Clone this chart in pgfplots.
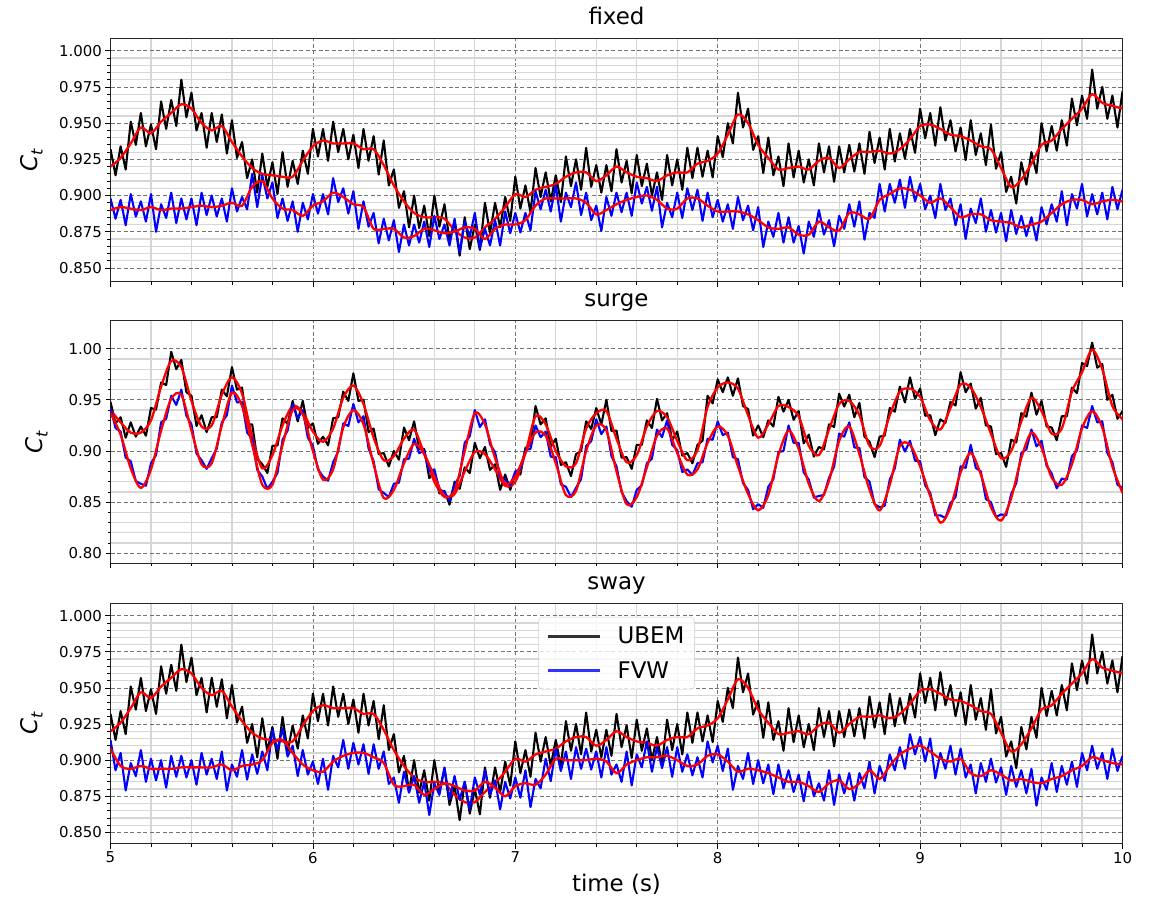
\documentclass[border=0pt]{standalone}
\usepackage{fontspec}
\setmainfont{DejaVu Sans}
\setsansfont{DejaVu Sans}
\usepackage{pgfplots}
\usepackage{pgfplotstable}
\pgfplotsset{compat=1.18}

\pgfplotstableread{
t fb ff sf sb sbl
5.00 0.920 0.890 0.908 0.940 0.937
5.05 0.926 0.892 0.896 0.928 0.916
5.10 0.936 0.891 0.894 0.918 0.883
5.15 0.947 0.890 0.896 0.918 0.864
5.20 0.943 0.892 0.894 0.930 0.882
5.25 0.951 0.890 0.894 0.963 0.920
5.30 0.957 0.891 0.894 0.988 0.951
5.35 0.963 0.891 0.895 0.982 0.955
5.40 0.960 0.892 0.895 0.949 0.920
5.45 0.950 0.893 0.895 0.924 0.887
5.50 0.945 0.892 0.895 0.925 0.888
5.55 0.948 0.893 0.897 0.955 0.925
5.60 0.937 0.895 0.893 0.972 0.957
5.65 0.927 0.893 0.896 0.956 0.944
5.70 0.919 0.906 0.897 0.914 0.906
5.75 0.915 0.910 0.900 0.883 0.867
5.80 0.914 0.898 0.912 0.896 0.867
5.85 0.913 0.891 0.914 0.925 0.906
5.90 0.913 0.890 0.905 0.944 0.940
5.95 0.924 0.886 0.897 0.938 0.936
6.00 0.934 0.893 0.893 0.919 0.900
6.05 0.938 0.896 0.892 0.909 0.872
6.10 0.936 0.902 0.899 0.922 0.882
6.15 0.936 0.899 0.903 0.952 0.923
6.20 0.936 0.894 0.905 0.964 0.940
6.25 0.932 0.892 0.905 0.946 0.926
6.30 0.932 0.877 0.902 0.913 0.887
6.35 0.921 0.877 0.898 0.891 0.854
6.40 0.907 0.877 0.883 0.895 0.862
6.45 0.896 0.871 0.882 0.912 0.888
6.50 0.888 0.872 0.883 0.921 0.907
6.55 0.885 0.877 0.876 0.897 0.897
6.60 0.885 0.876 0.880 0.870 0.875
6.65 0.884 0.874 0.884 0.855 0.856
6.70 0.876 0.875 0.882 0.858 0.861
6.75 0.871 0.878 0.879 0.880 0.900
6.80 0.871 0.877 0.879 0.899 0.937
6.85 0.878 0.870 0.885 0.897 0.926
6.90 0.884 0.877 0.881 0.882 0.893
6.95 0.892 0.880 0.875 0.866 0.868
7.00 0.901 0.880 0.882 0.870 0.875
7.05 0.899 0.883 0.884 0.898 0.898
7.10 0.904 0.893 0.883 0.934 0.918
7.15 0.906 0.898 0.890 0.926 0.915
7.20 0.908 0.898 0.901 0.900 0.888
7.25 0.913 0.898 0.900 0.885 0.857
7.30 0.916 0.898 0.900 0.888 0.861
7.35 0.916 0.895 0.900 0.922 0.900
7.40 0.910 0.887 0.901 0.937 0.925
7.45 0.914 0.890 0.899 0.939 0.920
7.50 0.920 0.894 0.891 0.912 0.880
7.55 0.916 0.897 0.897 0.889 0.848
7.60 0.913 0.899 0.900 0.896 0.855
7.65 0.912 0.900 0.902 0.924 0.884
7.70 0.910 0.897 0.902 0.939 0.915
7.75 0.914 0.891 0.903 0.933 0.922
7.80 0.916 0.891 0.900 0.910 0.898
7.85 0.916 0.898 0.896 0.891 0.877
7.90 0.922 0.898 0.897 0.901 0.882
7.95 0.924 0.893 0.903 0.943 0.908
8.00 0.929 0.889 0.904 0.962 0.924
8.05 0.942 0.889 0.899 0.967 0.915
8.10 0.956 0.889 0.892 0.961 0.885
8.15 0.950 0.887 0.894 0.935 0.858
8.20 0.935 0.883 0.893 0.913 0.842
8.25 0.926 0.878 0.891 0.926 0.857
8.30 0.918 0.877 0.888 0.944 0.896
8.35 0.919 0.878 0.885 0.943 0.920
8.40 0.920 0.873 0.885 0.934 0.902
8.45 0.918 0.873 0.882 0.905 0.868
8.50 0.924 0.882 0.878 0.896 0.851
8.55 0.926 0.878 0.884 0.921 0.871
8.60 0.919 0.876 0.886 0.946 0.910
8.65 0.925 0.888 0.880 0.949 0.924
8.70 0.930 0.887 0.884 0.935 0.897
8.75 0.930 0.884 0.893 0.905 0.862
8.80 0.931 0.897 0.887 0.905 0.842
8.85 0.929 0.901 0.896 0.935 0.867
8.90 0.932 0.905 0.904 0.958 0.905
8.95 0.939 0.904 0.908 0.961 0.906
9.00 0.948 0.900 0.910 0.953 0.885
9.05 0.949 0.895 0.906 0.930 0.856
9.10 0.946 0.898 0.901 0.921 0.830
9.15 0.942 0.892 0.899 0.942 0.845
9.20 0.941 0.885 0.901 0.965 0.879
9.25 0.938 0.887 0.891 0.962 0.898
9.30 0.934 0.887 0.889 0.943 0.877
9.35 0.932 0.883 0.893 0.917 0.845
9.40 0.919 0.882 0.890 0.893 0.832
9.45 0.906 0.881 0.886 0.900 0.854
9.50 0.911 0.878 0.887 0.929 0.893
9.55 0.922 0.880 0.885 0.952 0.918
9.60 0.935 0.882 0.884 0.939 0.903
9.65 0.938 0.888 0.887 0.917 0.874
9.70 0.946 0.894 0.889 0.922 0.867
9.75 0.953 0.897 0.893 0.958 0.887
9.80 0.960 0.897 0.896 0.977 0.922
9.85 0.970 0.894 0.902 0.999 0.939
9.90 0.964 0.896 0.900 0.980 0.923
9.95 0.962 0.897 0.898 0.944 0.885
10.00 0.960 0.896 0.897 0.931 0.859
}\smoothtab

\pgfplotstableread{
t fb ff sf sb sbl
5.000 0.932 0.898 0.914 0.948 0.942
5.025 0.914 0.884 0.893 0.927 0.9225
5.050 0.934 0.897 0.905 0.933 0.919
5.075 0.918 0.8795 0.879 0.913 0.8935
5.100 0.951 0.901 0.898 0.928 0.890
5.125 0.935 0.8855 0.889 0.914 0.8705
5.150 0.957 0.896 0.907 0.924 0.868
5.175 0.934 0.882 0.885 0.915 0.866
5.200 0.949 0.901 0.901 0.942 0.888
5.225 0.932 0.875 0.886 0.9405 0.896
5.250 0.965 0.894 0.900 0.967 0.928
5.275 0.946 0.8845 0.881 0.9645 0.9315
5.300 0.966 0.902 0.903 0.997 0.954
5.325 0.948 0.881 0.8885 0.980 0.945
5.350 0.980 0.898 0.903 0.989 0.960
5.375 0.954 0.8835 0.888 0.9575 0.9345
5.400 0.971 0.898 0.900 0.954 0.926
5.425 0.945 0.8795 0.883 0.9245 0.8975
5.450 0.957 0.902 0.905 0.935 0.891
5.475 0.933 0.8865 0.890 0.9185 0.8825
5.500 0.957 0.900 0.901 0.933 0.893
5.525 0.937 0.8855 0.887 0.933 0.9025
5.550 0.956 0.898 0.906 0.960 0.928
5.575 0.929 0.882 0.879 0.9535 0.935
5.600 0.952 0.905 0.897 0.982 0.964
5.625 0.926 0.889 0.8885 0.960 0.9475
5.650 0.937 0.899 0.907 0.962 0.948
5.675 0.912 0.8905 0.8865 0.926 0.918
5.700 0.925 0.915 0.904 0.926 0.912
5.725 0.902 0.892 0.8905 0.8925 0.8815
5.750 0.929 0.914 0.906 0.887 0.875
5.775 0.906 0.898 0.893 0.8785 0.863
5.800 0.923 0.909 0.921 0.905 0.870
5.825 0.901 0.8845 0.907 0.9055 0.8785
5.850 0.930 0.898 0.922 0.932 0.911
5.875 0.906 0.8825 0.9025 0.9265 0.920
5.900 0.924 0.896 0.910 0.949 0.946
5.925 0.908 0.875 0.889 0.929 0.932
5.950 0.931 0.895 0.907 0.949 0.940
5.975 0.915 0.8835 0.890 0.9225 0.913
6.000 0.946 0.901 0.899 0.927 0.905
6.025 0.927 0.8875 0.8835 0.907 0.882
6.050 0.946 0.901 0.901 0.914 0.875
6.075 0.924 0.887 0.8795 0.9055 0.871
6.100 0.951 0.912 0.903 0.932 0.889
6.125 0.930 0.8955 0.895 0.933 0.8995
6.150 0.946 0.905 0.914 0.958 0.927
6.175 0.925 0.8875 0.894 0.949 0.9245
6.200 0.942 0.903 0.912 0.976 0.946
6.225 0.919 0.877 0.897 0.949 0.928
6.250 0.946 0.896 0.911 0.950 0.934
6.275 0.924 0.8785 0.8905 0.9185 0.9025
6.300 0.941 0.888 0.911 0.922 0.890
6.325 0.9145 0.867 0.894 0.897 0.8625
6.350 0.938 0.884 0.906 0.898 0.859
6.375 0.907 0.869 0.8835 0.885 0.855
6.400 0.918 0.883 0.888 0.900 0.868
6.425 0.8915 0.861 0.8705 0.8915 0.869
6.450 0.903 0.880 0.892 0.923 0.892
6.475 0.878 0.8655 0.8775 0.9105 0.8925
6.500 0.900 0.880 0.889 0.929 0.912
6.525 0.8775 0.8675 0.8705 0.902 0.898
6.550 0.893 0.882 0.885 0.902 0.900
6.575 0.872 0.8645 0.862 0.8735 0.880
6.600 0.900 0.886 0.884 0.880 0.882
6.625 0.8785 0.870 0.876 0.8585 0.8625
6.650 0.894 0.880 0.895 0.861 0.860
6.675 0.869 0.8655 0.873 0.8475 0.8515
6.700 0.882 0.884 0.889 0.870 0.867
6.725 0.8585 0.8605 0.8725 0.863 0.8755
6.750 0.885 0.882 0.885 0.884 0.908
6.775 0.863 0.8715 0.866 0.8785 0.9145
6.800 0.880 0.888 0.888 0.908 0.940
6.825 0.8625 0.8635 0.876 0.893 0.9235
6.850 0.895 0.877 0.893 0.904 0.931
6.875 0.874 0.8655 0.876 0.8815 0.9065
6.900 0.895 0.883 0.886 0.887 0.899
6.925 0.878 0.8655 0.866 0.862 0.8745
6.950 0.899 0.889 0.885 0.877 0.872
6.975 0.8825 0.874 0.8735 0.862 0.8665
7.000 0.913 0.888 0.888 0.878 0.880
7.025 0.891 0.8745 0.874 0.877 0.8825
7.050 0.907 0.888 0.893 0.903 0.901
7.075 0.8885 0.876 0.8675 0.906 0.902
7.100 0.919 0.903 0.887 0.944 0.925
7.125 0.899 0.8905 0.8805 0.926 0.9135
7.150 0.916 0.904 0.901 0.932 0.919
7.175 0.896 0.889 0.8855 0.904 0.8945
7.200 0.914 0.907 0.908 0.912 0.894
7.225 0.8955 0.882 0.8925 0.8865 0.8675
7.250 0.927 0.902 0.906 0.889 0.865
7.275 0.9065 0.892 0.887 0.8755 0.855
7.300 0.925 0.909 0.909 0.897 0.864
7.325 0.904 0.8865 0.894 0.900 0.8725
7.350 0.933 0.902 0.908 0.929 0.905
7.375 0.906 0.883 0.8935 0.9215 0.9095
7.400 0.921 0.893 0.906 0.942 0.931
7.425 0.902 0.8755 0.888 0.926 0.9165
7.450 0.921 0.899 0.909 0.950 0.924
7.475 0.903 0.886 0.890 0.9195 0.895
7.500 0.932 0.902 0.897 0.920 0.885
7.525 0.909 0.8885 0.885 0.8935 0.860
7.550 0.924 0.902 0.906 0.894 0.851
7.575 0.9015 0.886 0.8825 0.8825 0.8455
7.600 0.928 0.909 0.904 0.906 0.862
7.625 0.9065 0.8945 0.895 0.906 0.8665
7.650 0.922 0.906 0.913 0.930 0.888
7.675 0.900 0.8895 0.892 0.9225 0.8925
7.700 0.916 0.906 0.909 0.951 0.921
7.725 0.897 0.878 0.8945 0.930 0.9135
7.750 0.928 0.895 0.909 0.937 0.930
7.775 0.907 0.885 0.8885 0.9105 0.906
7.800 0.925 0.902 0.909 0.919 0.901
7.825 0.904 0.8845 0.892 0.8955 0.8795
7.850 0.933 0.905 0.904 0.898 0.882
7.875 0.912 0.890 0.8895 0.888 0.8765
7.900 0.933 0.904 0.902 0.906 0.888
7.925 0.913 0.8825 0.888 0.910 0.889
7.950 0.931 0.902 0.913 0.954 0.912
7.975 0.9125 0.885 0.8985 0.9465 0.911
8.000 0.941 0.897 0.910 0.970 0.929
8.025 0.9265 0.882 0.8925 0.9575 0.9155
8.050 0.950 0.894 0.908 0.972 0.918
8.075 0.936 0.877 0.8795 0.954 0.894
8.100 0.971 0.899 0.896 0.971 0.892
8.125 0.947 0.883 0.887 0.944 0.8685
8.150 0.960 0.893 0.905 0.941 0.862
8.175 0.9315 0.876 0.8835 0.915 0.843
8.200 0.941 0.892 0.900 0.925 0.848
8.225 0.9155 0.8645 0.884 0.9135 0.8445
8.250 0.940 0.882 0.897 0.930 0.865
8.275 0.914 0.8715 0.8765 0.924 0.8725
8.300 0.927 0.888 0.897 0.953 0.899
8.325 0.9065 0.8675 0.8805 0.9385 0.900
8.350 0.936 0.885 0.893 0.950 0.925
8.375 0.9125 0.8675 0.878 0.9305 0.908
8.400 0.931 0.879 0.890 0.939 0.908
8.425 0.909 0.860 0.8715 0.9075 0.879
8.450 0.925 0.882 0.892 0.916 0.872
8.475 0.907 0.8715 0.875 0.8945 0.8545
8.500 0.936 0.890 0.884 0.904 0.856
8.525 0.916 0.873 0.872 0.9015 0.857
8.550 0.934 0.883 0.893 0.926 0.874
8.575 0.9095 0.865 0.869 0.9235 0.8845
8.600 0.934 0.886 0.890 0.956 0.917
8.625 0.916 0.877 0.877 0.9435 0.914
8.650 0.935 0.894 0.891 0.955 0.928
8.675 0.9165 0.8785 0.872 0.933 0.9035
8.700 0.936 0.896 0.891 0.947 0.903
8.725 0.915 0.8695 0.8805 0.914 0.8745
8.750 0.944 0.888 0.899 0.909 0.870
8.775 0.9225 0.8845 0.877 0.894 0.848
8.800 0.940 0.908 0.896 0.914 0.845
8.825 0.918 0.889 0.8855 0.915 0.8465
8.850 0.946 0.908 0.904 0.942 0.872
8.875 0.9235 0.895 0.893 0.9385 0.883
8.900 0.943 0.911 0.909 0.963 0.911
8.925 0.9255 0.8915 0.894 0.9475 0.8995
8.950 0.946 0.913 0.918 0.972 0.910
8.975 0.9295 0.896 0.904 0.951 0.8905
9.000 0.960 0.908 0.916 0.961 0.890
9.025 0.9395 0.8905 0.899 0.9345 0.8665
9.050 0.957 0.900 0.915 0.935 0.859
9.075 0.9345 0.8845 0.8875 0.9155 0.837
9.100 0.961 0.908 0.905 0.931 0.837
9.125 0.938 0.890 0.894 0.9275 0.8345
9.150 0.952 0.898 0.910 0.948 0.849
9.175 0.9305 0.8795 0.890 0.9445 0.855
9.200 0.947 0.894 0.908 0.977 0.885
9.225 0.9245 0.870 0.888 0.9575 0.8835
9.250 0.952 0.891 0.897 0.966 0.906
9.275 0.928 0.881 0.877 0.9415 0.8835
9.300 0.943 0.898 0.898 0.952 0.880
9.325 0.921 0.875 0.885 0.925 0.853
9.350 0.949 0.890 0.901 0.924 0.850
9.375 0.9185 0.8745 0.8845 0.897 0.8355
9.400 0.930 0.888 0.895 0.898 0.838
9.425 0.9025 0.8685 0.876 0.8845 0.837
9.450 0.913 0.890 0.896 0.911 0.858
9.475 0.8945 0.8735 0.8815 0.9085 0.8685
9.500 0.923 0.886 0.893 0.937 0.898
9.525 0.9075 0.872 0.877 0.9335 0.9015
9.550 0.930 0.885 0.894 0.957 0.921
9.575 0.9155 0.869 0.8685 0.9355 0.9045
9.600 0.950 0.892 0.888 0.949 0.910
9.625 0.9305 0.880 0.8795 0.924 0.8855
9.650 0.948 0.894 0.898 0.923 0.878
9.675 0.931 0.882 0.878 0.9105 0.8635
9.700 0.952 0.903 0.896 0.934 0.873
9.725 0.9345 0.8795 0.883 0.934 0.872
9.750 0.967 0.901 0.899 0.962 0.895
9.775 0.9485 0.891 0.8815 0.9565 0.9005
9.800 0.969 0.908 0.905 0.986 0.925
9.825 0.953 0.8855 0.893 0.983 0.9225
9.850 0.987 0.901 0.910 1.006 0.944
9.875 0.960 0.887 0.894 0.9815 0.928
9.900 0.975 0.902 0.905 0.985 0.929
9.925 0.953 0.8835 0.887 0.950 0.898
9.950 0.969 0.906 0.908 0.955 0.889
9.975 0.947 0.8905 0.8925 0.9315 0.867
10.000 0.972 0.904 0.903 0.939 0.864
}\noisytab

\pgfplotsset{
  myax/.style={
    scale only axis, width=1012bp,
    xmin=5, xmax=10, xtick={5,6,7,8,9,10},
    minor x tick num=4, minor y tick num=4,
    grid=both,
    major grid style={dash pattern=on 4bp off 2.5bp, black!55, line width=0.8bp},
    minor grid style={black!16, line width=1.2bp},
    tick align=outside, tick pos=left,
    major tick length=5bp, minor tick length=3bp,
    every tick/.style={black, line width=0.8bp},
    axis line style={black!85, line width=0.9bp},
    tick label style={font=\fontsize{15}{18}\selectfont},
    /pgf/number format/assume math mode=true,
    title style={font=\fontsize{23}{27}\selectfont, at={(0.5,1)}, anchor=base, yshift=8bp},
    ylabel style={font=\fontsize{23}{27}\selectfont, at={(axis description cs:-0.078,0.5)}, anchor=center},
    ylabel={\textit{C}\raisebox{-0.22em}{\fontsize{16}{18}\selectfont\textit{t}}},
  },
  noisy/.style={line width=2.1bp, line join=round},
  smred/.style={red, line width=2.3bp, smooth, forget plot},
}

\begin{document}
\begin{tikzpicture}
\path[use as bounding box] (0bp,0bp) rectangle (1151bp,-904bp);

% fixed
\begin{axis}[myax, at={(110.5bp,-38.3bp)}, anchor=north west, height=243.4bp,
  ymin=0.8405, ymax=1.0086, ytick={0.85,0.875,0.9,0.925,0.95,0.975,1.0},
  yticklabel style={/pgf/number format/.cd, fixed, fixed zerofill, precision=3},
  xticklabels={}, title={fixed}]
\addplot[noisy, black] table[x=t, y=fb] {\noisytab};
\addplot[smred] table[x=t, y=fb] {\smoothtab};
\addplot[noisy, blue] table[x=t, y=ff] {\noisytab};
\addplot[smred] table[x=t, y=ff] {\smoothtab};
\end{axis}

% surge
\begin{axis}[myax, at={(110.5bp,-320.7bp)}, anchor=north west, height=242.3bp,
  ymin=0.7905, ymax=1.0274, ytick={0.8,0.85,0.9,0.95,1.0},
  yticklabel style={/pgf/number format/.cd, fixed, fixed zerofill, precision=2},
  ylabel style={at={(axis description cs:-0.073,0.5)}},
  xticklabels={}, title={surge}]
\addplot[noisy, black] table[x=t, y=sb] {\noisytab};
\addplot[smred] table[x=t, y=sb] {\smoothtab};
\addplot[noisy, blue] table[x=t, y=sbl] {\noisytab};
\addplot[smred] table[x=t, y=sbl] {\smoothtab};
\end{axis}

% sway
\begin{axis}[myax, at={(110.5bp,-603bp)}, anchor=north west, height=240.5bp,
  ymin=0.8423, ymax=1.0088, ytick={0.85,0.875,0.9,0.925,0.95,0.975,1.0},
  yticklabel style={/pgf/number format/.cd, fixed, fixed zerofill, precision=3},
  title={sway},
  xlabel={time (s)},
  xlabel style={font=\fontsize{23}{27}\selectfont, at={(axis description cs:0.5,0)}, anchor=base, yshift=-48bp},
  legend style={at={(0.5,0.942)}, anchor=north, draw=black!20, rounded corners=4bp,
    fill=white, fill opacity=0.8, text opacity=1, font=\fontsize{23}{27}\selectfont,
    inner xsep=8bp, inner ysep=8bp, row sep=12bp,
    /tikz/every odd column/.append style={column sep=14bp}},
  legend cell align=left,
  legend image code/.code={\draw[#1, line width=3bp, draw opacity=0.8] (0bp,0bp) -- (52bp,0bp);},
  ]
\addplot[noisy, black] table[x=t, y=fb] {\noisytab};
\addlegendentry{UBEM}
\addplot[smred] table[x=t, y=fb] {\smoothtab};
\addplot[noisy, blue] table[x=t, y=sf] {\noisytab};
\addlegendentry{FVW}
\addplot[smred] table[x=t, y=sf] {\smoothtab};
\end{axis}
\end{tikzpicture}
\end{document}
